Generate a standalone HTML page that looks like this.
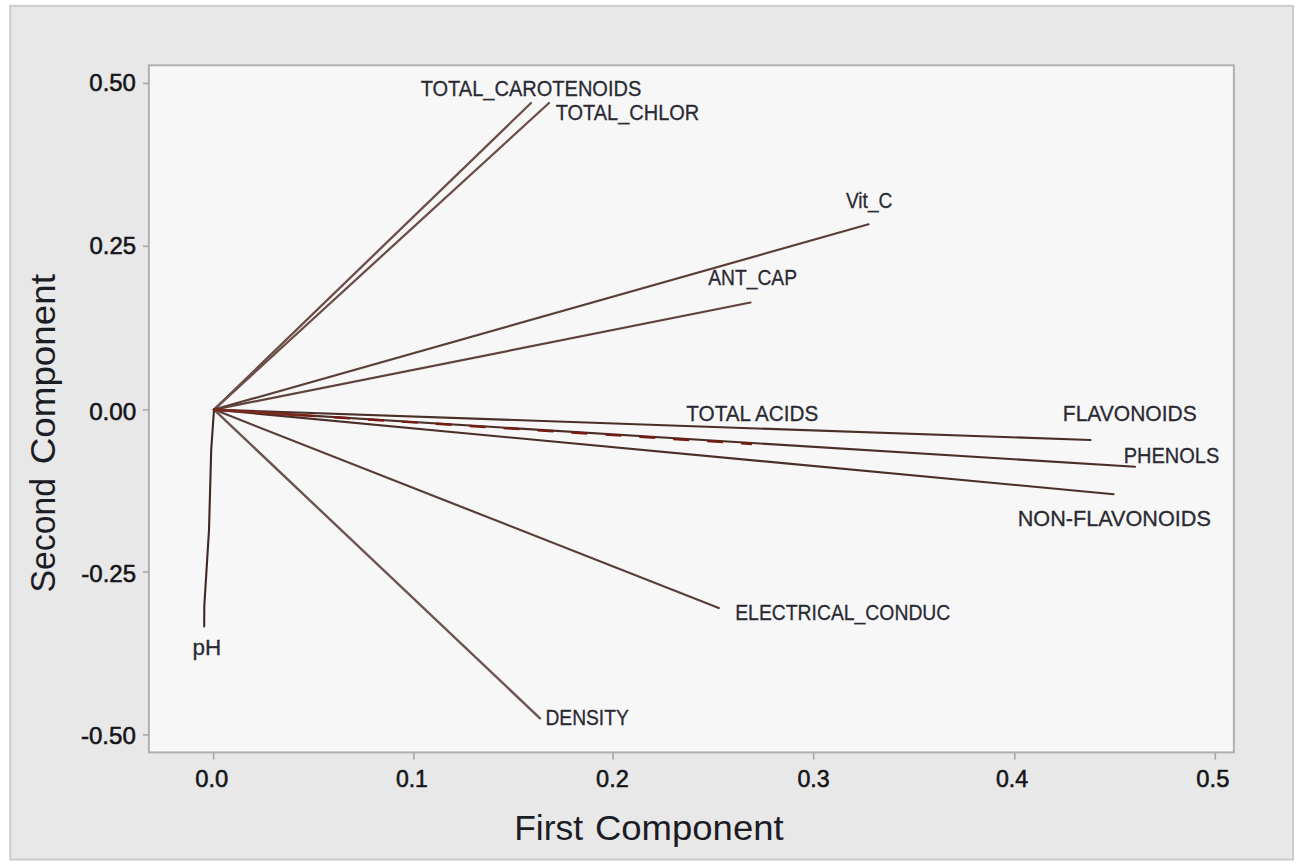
<!DOCTYPE html>
<html><head><meta charset="utf-8"><style>
html,body{margin:0;padding:0;background:#fff;width:1299px;height:868px;overflow:hidden}
svg{display:block}
text{font-family:"Liberation Sans",sans-serif;fill:#1e1e24}
.tk text{fill:#141418;stroke:#141418;stroke-width:0.55px}
.lb text{fill:#2a2a33;stroke:#2a2a33;stroke-width:0.3px}
.ti text{fill:#1c1c24}
</style></head><body>
<svg width="1299" height="868" viewBox="0 0 1299 868">
<rect x="10.2" y="5.9" width="1282.8" height="853.6" fill="#e8e8e8" stroke="#cccccc" stroke-width="2"/>
<rect x="148.9" y="65.3" width="1085" height="687.1" fill="#f7f7f7" stroke="#b0b0b0" stroke-width="2"/>
<g stroke="#a6a6a6" stroke-width="1.6">
<line x1="143" y1="83.4" x2="148" y2="83.4"/>
<line x1="143" y1="246.3" x2="148" y2="246.3"/>
<line x1="143" y1="409.9" x2="148" y2="409.9"/>
<line x1="143" y1="571.9" x2="148" y2="571.9"/>
<line x1="143" y1="734.9" x2="148" y2="734.9"/>
<line x1="213.6" y1="753" x2="213.6" y2="759.5"/>
<line x1="413.9" y1="753" x2="413.9" y2="759.5"/>
<line x1="613.1" y1="753" x2="613.1" y2="759.5"/>
<line x1="813.7" y1="753" x2="813.7" y2="759.5"/>
<line x1="1014.75" y1="753" x2="1014.75" y2="759.5"/>
<line x1="1215.3" y1="753" x2="1215.3" y2="759.5"/>
</g>
<g class="tk">
<text x="89.37" y="91.00" font-size="23.6" textLength="46.47" lengthAdjust="spacingAndGlyphs">0.50</text>
<text x="89.46" y="254.00" font-size="23.6" textLength="46.59" lengthAdjust="spacingAndGlyphs">0.25</text>
<text x="89.15" y="419.50" font-size="23.6" textLength="47.19" lengthAdjust="spacingAndGlyphs">0.00</text>
<text x="81.33" y="581.50" font-size="23.6" textLength="54.73" lengthAdjust="spacingAndGlyphs">-0.25</text>
<text x="80.93" y="744.00" font-size="23.6" textLength="54.91" lengthAdjust="spacingAndGlyphs">-0.50</text>
<text x="195.27" y="787.20" font-size="23.6" textLength="33.06" lengthAdjust="spacingAndGlyphs">0.0</text>
<text x="395.90" y="787.20" font-size="23.6" textLength="32.02" lengthAdjust="spacingAndGlyphs">0.1</text>
<text x="596.08" y="787.20" font-size="23.6" textLength="32.70" lengthAdjust="spacingAndGlyphs">0.2</text>
<text x="797.49" y="787.20" font-size="23.6" textLength="32.22" lengthAdjust="spacingAndGlyphs">0.3</text>
<text x="995.90" y="787.20" font-size="23.6" textLength="32.18" lengthAdjust="spacingAndGlyphs">0.4</text>
<text x="1196.37" y="787.20" font-size="23.6" textLength="33.03" lengthAdjust="spacingAndGlyphs">0.5</text>
</g>
<g class="ti">
<text x="514.19" y="839.50" font-size="34.5" textLength="68.97" lengthAdjust="spacingAndGlyphs">First</text><text x="594.95" y="839.50" font-size="34.5" textLength="188.72" lengthAdjust="spacingAndGlyphs">Component</text>
<g transform="translate(54.6,0) rotate(-90)"><text x="-592.53" y="0.00" font-size="34.5" textLength="114.61" lengthAdjust="spacingAndGlyphs">Second</text><text x="-464.27" y="0.00" font-size="34.5" textLength="190.14" lengthAdjust="spacingAndGlyphs">Component</text></g>
</g>
<g fill="none" stroke-linecap="round" stroke-linejoin="round">
<polyline points="214,409.6 531,103" stroke="#6c4e48" stroke-width="2.3"/>
<polyline points="214,409.6 549,103" stroke="#6c4e48" stroke-width="2.3"/>
<polyline points="214,409.6 868.5,224.3" stroke="#5a3e38" stroke-width="2.2"/>
<polyline points="214,409.6 750.5,302.5" stroke="#5e423c" stroke-width="2.2"/>
<polyline points="214,409.6 1090.5,440" stroke="#4a2e28" stroke-width="2.1"/>
<polyline points="214,409.6 1135,466.8" stroke="#4a2e28" stroke-width="2.1"/>
<polyline points="214,409.6 1113.6,494.2" stroke="#4a2e28" stroke-width="2.1"/>
<polyline points="214,409.6 718.8,608" stroke="#583e38" stroke-width="2.2"/>
<polyline points="214,409.6 540,718.3" stroke="#6c5450" stroke-width="2.4"/>
<polyline points="214,409.6 211.2,450 209,530 204.3,606 204.2,626.5" stroke="#3e2824" stroke-width="2.1"/>
<line x1="214" y1="409.6" x2="300" y2="415.10" stroke="#7a2a1c" stroke-width="2.6"/>
<line x1="300" y1="415.10" x2="752" y2="444.0" stroke="#761a12" stroke-width="2.4" stroke-dasharray="16 18" stroke-linecap="butt"/>
</g>
<g class="lb">
<text x="420.65" y="95.50" font-size="22.0" textLength="220.66" lengthAdjust="spacingAndGlyphs">TOTAL_CAROTENOIDS</text>
<text x="555.66" y="120.30" font-size="22.0" textLength="143.56" lengthAdjust="spacingAndGlyphs">TOTAL_CHLOR</text>
<text x="845.92" y="207.70" font-size="22.0" textLength="46.51" lengthAdjust="spacingAndGlyphs">Vit_C</text>
<text x="708.26" y="285.00" font-size="22.0" textLength="88.75" lengthAdjust="spacingAndGlyphs">ANT_CAP</text>
<text x="686.25" y="421.40" font-size="22.0" textLength="131.98" lengthAdjust="spacingAndGlyphs">TOTAL ACIDS</text>
<text x="1062.80" y="420.90" font-size="22.0" textLength="133.96" lengthAdjust="spacingAndGlyphs">FLAVONOIDS</text>
<text x="1123.76" y="462.60" font-size="22.0" textLength="95.56" lengthAdjust="spacingAndGlyphs">PHENOLS</text>
<text x="1017.74" y="525.90" font-size="22.0" textLength="193.15" lengthAdjust="spacingAndGlyphs">NON-FLAVONOIDS</text>
<text x="735.21" y="620.30" font-size="22.0" textLength="215.13" lengthAdjust="spacingAndGlyphs">ELECTRICAL_CONDUC</text>
<text x="545.42" y="725.00" font-size="22.0" textLength="83.40" lengthAdjust="spacingAndGlyphs">DENSITY</text>
<text x="192.55" y="655.40" font-size="22.0" textLength="28.67" lengthAdjust="spacingAndGlyphs">pH</text>
</g>
</svg>
</body></html>
